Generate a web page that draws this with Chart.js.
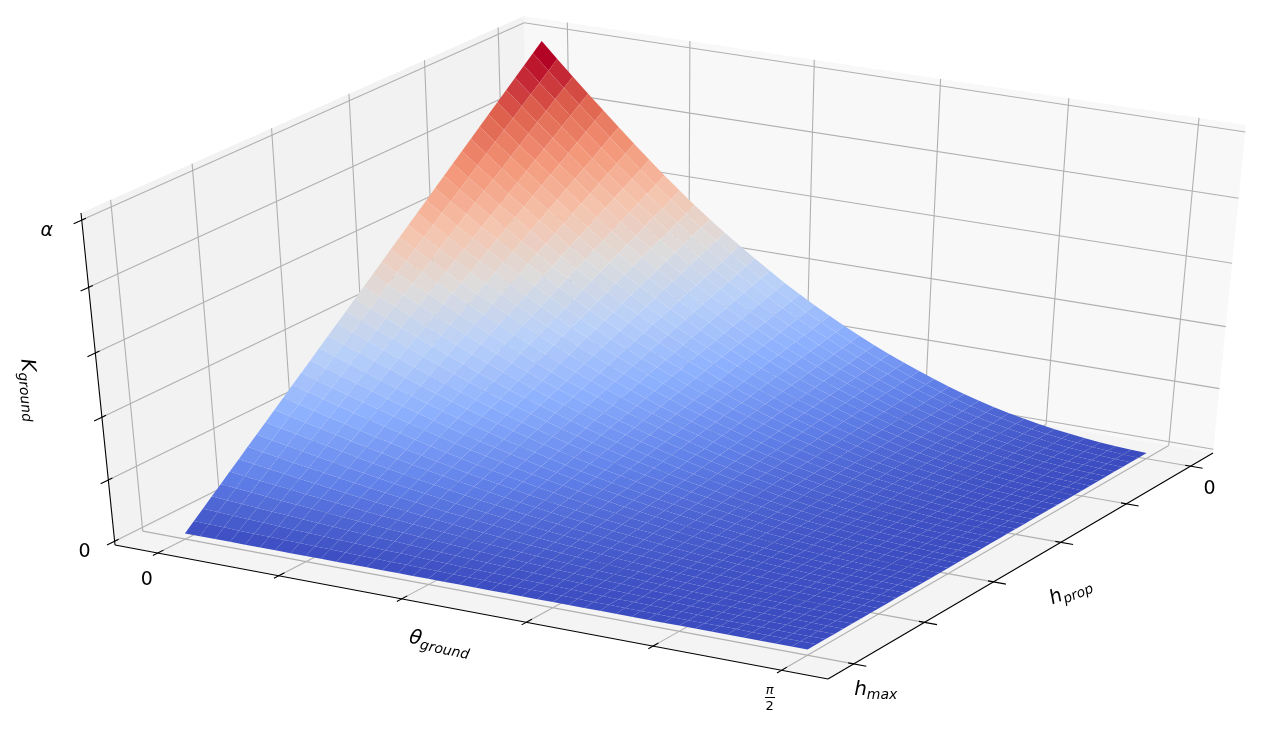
<!DOCTYPE html>
<html>
<head>
<meta charset="utf-8">
<title>K ground surface</title>
<script src="https://cdn.jsdelivr.net/npm/chart.js@4"></script>
<style>
  html, body { margin: 0; padding: 0; background: #fff; }
  canvas { display: block; }
</style>
</head>
<body>
<canvas id="surfaceChart" width="1267" height="731"></canvas>
<script>
// DATA (theta in degrees, h in percent of h_max, K in thousandths of alpha)
const thetaValues = [0, 2.25, 4.5, 6.75, 9, 11.25, 13.5, 15.75, 18, 20.25, 22.5, 24.75, 27, 29.25, 31.5, 33.75, 36, 38.25, 40.5, 42.75, 45, 47.25, 49.5, 51.75, 54, 56.25, 58.5, 60.75, 63, 65.25, 67.5, 69.75, 72, 74.25, 76.5, 78.75, 81, 83.25, 85.5, 87.75, 90];
const hValues = [0, 2.5, 5, 7.5, 10, 12.5, 15, 17.5, 20, 22.5, 25, 27.5, 30, 32.5, 35, 37.5, 40, 42.5, 45, 47.5, 50, 52.5, 55, 57.5, 60, 62.5, 65, 67.5, 70, 72.5, 75, 77.5, 80, 82.5, 85, 87.5, 90, 92.5, 95, 97.5, 100];
const kGrid = [
  [1000,952,905,859,814,769,725,682,640,600,561,524,488,454,421,389,358,329,301,275,250,226,203,182,162,143,125,108,92,78,65,54,44,35,27,20,14,9,5,2,0],
  [975,928,882,838,794,750,707,665,624,585,547,511,476,443,410,379,349,321,293,268,244,220,198,177,158,139,122,105,90,76,63,53,43,34,26,20,14,9,5,2,0],
  [950,904,860,816,773,731,689,648,608,570,533,498,464,431,400,370,340,313,286,261,238,215,193,173,154,136,119,103,87,74,62,51,42,33,26,19,13,9,5,2,0],
  [925,881,837,795,753,711,671,631,592,555,519,485,451,420,389,360,331,304,278,254,231,209,188,168,150,132,116,100,85,72,60,50,41,32,25,19,13,8,5,2,0],
  [900,857,815,773,733,692,653,614,576,540,505,472,439,409,379,350,322,296,271,248,225,203,183,164,146,129,113,97,83,70,59,49,40,32,24,18,13,8,5,2,0],
  [875,833,792,752,712,673,634,597,560,525,491,459,427,397,368,340,313,288,263,241,219,198,178,159,142,125,109,95,81,68,57,47,39,31,24,18,12,8,4,2,0],
  [850,809,769,730,692,654,616,580,544,510,477,445,415,386,358,331,304,280,256,234,213,192,173,155,138,122,106,92,78,66,55,46,37,30,23,17,12,8,4,2,0],
  [825,785,747,709,672,634,598,563,528,495,463,432,403,375,347,321,295,271,248,227,206,186,167,150,134,118,103,89,76,64,54,45,36,29,22,17,12,7,4,2,0],
  [800,762,724,687,651,615,580,546,512,480,449,419,390,363,337,311,286,263,241,220,200,181,162,146,130,114,100,86,74,62,52,43,35,28,22,16,11,7,4,2,0],
  [775,738,701,666,631,596,562,529,496,465,435,406,378,352,326,301,277,255,233,213,194,175,157,141,126,111,97,84,71,60,50,42,34,27,21,16,11,7,4,2,0],
  [750,714,679,644,611,577,544,512,480,450,421,393,366,341,316,292,269,247,226,206,188,170,152,137,122,107,94,81,69,59,49,41,33,26,20,15,11,7,4,2,0],
  [725,690,656,623,590,558,526,494,464,435,407,380,354,329,305,282,260,239,218,199,181,164,147,132,117,104,91,78,67,57,47,39,32,25,20,15,10,7,4,1,0],
  [700,666,634,601,570,538,508,477,448,420,393,367,342,318,295,272,251,230,211,193,175,158,142,127,113,100,88,76,64,55,46,38,31,25,19,14,10,6,4,1,0],
  [675,643,611,580,549,519,489,460,432,405,379,354,329,306,284,263,242,222,203,186,169,153,137,123,109,97,84,73,62,53,44,36,30,24,18,14,9,6,3,1,0],
  [650,619,588,558,529,500,471,443,416,390,365,341,317,295,274,253,233,214,196,179,163,147,132,118,105,93,81,70,60,51,42,35,29,23,18,13,9,6,3,1,0],
  [625,595,566,537,509,481,453,426,400,375,351,328,305,284,263,243,224,206,188,172,156,141,127,114,101,89,78,68,58,49,41,34,28,22,17,13,9,6,3,1,0],
  [600,571,543,515,488,461,435,409,384,360,337,314,293,272,253,233,215,197,181,165,150,136,122,109,97,86,75,65,55,47,39,32,26,21,16,12,8,5,3,1,0],
  [575,547,520,494,468,442,417,392,368,345,323,301,281,261,242,224,206,189,173,158,144,130,117,105,93,82,72,62,53,45,37,31,25,20,16,12,8,5,3,1,0],
  [550,524,498,472,448,423,399,375,352,330,309,288,268,250,232,214,197,181,166,151,138,124,112,100,89,79,69,59,51,43,36,30,24,19,15,11,8,5,3,1,0],
  [525,500,475,451,427,404,381,358,336,315,295,275,256,238,221,204,188,173,158,144,131,119,107,96,85,75,66,57,48,41,34,28,23,18,14,11,7,5,3,1,0],
  [500,476,453,430,407,385,363,341,320,300,281,262,244,227,211,195,179,165,151,138,125,113,102,91,81,72,63,54,46,39,33,27,22,18,14,10,7,5,3,1,0],
  [475,452,430,408,387,365,344,324,304,285,266,249,232,216,200,185,170,156,143,131,119,107,96,86,77,68,59,51,44,37,31,26,21,17,13,10,7,4,2,1,0],
  [450,428,407,387,366,346,326,307,288,270,252,236,220,204,189,175,161,148,135,124,113,102,91,82,73,64,56,49,41,35,29,24,20,16,12,9,6,4,2,1,0],
  [425,405,385,365,346,327,308,290,272,255,238,223,207,193,179,165,152,140,128,117,106,96,86,77,69,61,53,46,39,33,28,23,19,15,11,9,6,4,2,1,0],
  [400,381,362,344,326,308,290,273,256,240,224,210,195,182,168,156,143,132,120,110,100,90,81,73,65,57,50,43,37,31,26,22,18,14,11,8,6,4,2,1,0],
  [375,357,339,322,305,288,272,256,240,225,210,197,183,170,158,146,134,123,113,103,94,85,76,68,61,54,47,41,35,29,24,20,17,13,10,8,5,3,2,1,0],
  [350,333,317,301,285,269,254,239,224,210,196,183,171,159,147,136,125,115,105,96,88,79,71,64,57,50,44,38,32,27,23,19,15,12,9,7,5,3,2,1,0],
  [325,309,294,279,265,250,236,222,208,195,182,170,159,148,137,126,116,107,98,89,81,73,66,59,53,46,41,35,30,25,21,18,14,11,9,7,5,3,2,1,0],
  [300,286,272,258,244,231,218,205,192,180,168,157,146,136,126,117,107,99,90,83,75,68,61,55,49,43,38,32,28,23,20,16,13,11,8,6,4,3,2,1,0],
  [275,262,249,236,224,211,199,188,176,165,154,144,134,125,116,107,98,90,83,76,69,62,56,50,45,39,34,30,25,21,18,15,12,10,7,6,4,2,1,1,0],
  [250,238,226,215,204,192,181,171,160,150,140,131,122,114,105,97,90,82,75,69,63,57,51,46,41,36,31,27,23,20,16,14,11,9,7,5,4,2,1,1,0],
  [225,214,204,193,183,173,163,153,144,135,126,118,110,102,95,88,81,74,68,62,56,51,46,41,36,32,28,24,21,18,15,12,10,8,6,5,3,2,1,0,0],
  [200,190,181,172,163,154,145,136,128,120,112,105,98,91,84,78,72,66,60,55,50,45,41,36,32,29,25,22,18,16,13,11,9,7,5,4,3,2,1,0,0],
  [175,167,158,150,142,135,127,119,112,105,98,92,85,79,74,68,63,58,53,48,44,40,36,32,28,25,22,19,16,14,11,9,8,6,5,4,2,2,1,0,0],
  [150,143,136,129,122,115,109,102,96,90,84,79,73,68,63,58,54,49,45,41,38,34,30,27,24,21,19,16,14,12,10,8,7,5,4,3,2,1,1,0,0],
  [125,119,113,107,102,96,91,85,80,75,70,66,61,57,53,49,45,41,38,34,31,28,25,23,20,18,16,14,12,10,8,7,6,4,3,3,2,1,1,0,0],
  [100,95,91,86,81,77,73,68,64,60,56,52,49,45,42,39,36,33,30,28,25,23,20,18,16,14,13,11,9,8,7,5,4,4,3,2,1,1,1,0,0],
  [75,71,68,64,61,58,54,51,48,45,42,39,37,34,32,29,27,25,23,21,19,17,15,14,12,11,9,8,7,6,5,4,3,3,2,2,1,1,0,0,0],
  [50,48,45,43,41,38,36,34,32,30,28,26,24,23,21,19,18,16,15,14,13,11,10,9,8,7,6,5,5,4,3,3,2,2,1,1,1,0,0,0,0],
  [25,24,23,21,20,19,18,17,16,15,14,13,12,11,11,10,9,8,8,7,6,6,5,5,4,4,3,3,2,2,2,1,1,1,1,1,0,0,0,0,0],
  [0,0,0,0,0,0,0,0,0,0,0,0,0,0,0,0,0,0,0,0,0,0,0,0,0,0,0,0,0,0,0,0,0,0,0,0,0,0,0,0,0]
];
const thetaTicks = [0, 18, 36, 54, 72, 90];
const hTicks = [0, 20, 40, 60, 80, 100];
const kTicks = [0, 200, 400, 600, 800, 1000];

// coolwarm colour stops
const coolwarm = [
  [59, 76, 192], [98, 130, 234], [141, 176, 254], [184, 208, 249], [221, 220, 220],
  [245, 196, 173], [244, 152, 122], [222, 96, 77], [180, 4, 38]
];

function coolwarmColor(v) {
  const p = Math.min(Math.max(v, 0), 1) * (coolwarm.length - 1);
  const i = Math.min(Math.floor(p), coolwarm.length - 2);
  const f = p - i;
  const c = [0, 1, 2].map(k => Math.round(coolwarm[i][k] + (coolwarm[i + 1][k] - coolwarm[i][k]) * f));
  return 'rgb(' + c.join(',') + ')';
}

// PROJECTION: box coordinates u, s, w (all 0 to 1) to page pixels
function project(u, s, w) {
  const d = 1 - 0.04273 * u + 0.07057 * s - 0.0583 * w;
  return {
    x: (115 + 677.62 * u + 454.15 * s - 38.72 * w) / d,
    y: (545 + 104.99 * u - 184.38 * s - 344.42 * w) / d
  };
}
const toU = theta => 0.0625 + 0.875 * theta / 90;
const toS = h => 0.9375 - 0.875 * h / 100;
const toW = k => 0.012 + 0.968 * k / 1000;
// the sheet sits a touch above the 0 tick in the reference
const sheetW = k => 0.018 + 0.962 * k / 1000;

// DATASETS, listed bottom layer first
const layers = [];

function addShape(corners, color) {
  layers.push({
    data: corners.map(c => project(c[0], c[1], c[2])),
    showLine: true, fill: 'shape', backgroundColor: color, borderWidth: 0, pointRadius: 0, clip: false
  });
}

function addLine(from, to, color, width) {
  layers.push({
    data: [project(from[0], from[1], from[2]), project(to[0], to[1], to[2])],
    showLine: true, fill: false, borderColor: color, borderWidth: width, pointRadius: 0, clip: false
  });
}

// panes
addShape([[0, 0, 0], [1, 0, 0], [1, 1, 0], [0, 1, 0]], '#f4f4f4');
addShape([[0, 0, 0], [0, 1, 0], [0, 1, 1], [0, 0, 1]], '#f2f2f2');
addShape([[0, 1, 0], [1, 1, 0], [1, 1, 1], [0, 1, 1]], '#f8f8f8');

// grid lines
const gridColor = '#b0b0b0';
thetaTicks.forEach(t => {
  addLine([toU(t), 0, 0], [toU(t), 1, 0], gridColor, 1.1);
  addLine([toU(t), 1, 0], [toU(t), 1, 1], gridColor, 1.1);
});
hTicks.forEach(h => {
  addLine([0, toS(h), 0], [1, toS(h), 0], gridColor, 1.1);
  addLine([0, toS(h), 0], [0, toS(h), 1], gridColor, 1.1);
});
kTicks.forEach(k => {
  addLine([0, 0, toW(k)], [0, 1, toW(k)], gridColor, 1.1);
  addLine([0, 1, toW(k)], [1, 1, toW(k)], gridColor, 1.1);
});

// surface cells, far row first
const cellMeans = [];
for (let r = 0; r < hValues.length - 1; r++) {
  for (let c = 0; c < thetaValues.length - 1; c++) {
    cellMeans.push((kGrid[r][c] + kGrid[r][c + 1] + kGrid[r + 1][c] + kGrid[r + 1][c + 1]) / 4);
  }
}
const meanMax = Math.max(...cellMeans);
for (let r = 0; r < hValues.length - 1; r++) {
  for (let c = 0; c < thetaValues.length - 1; c++) {
    const mean = cellMeans[r * (thetaValues.length - 1) + c];
    addShape([
      [toU(thetaValues[c]), toS(hValues[r]), sheetW(kGrid[r][c])],
      [toU(thetaValues[c + 1]), toS(hValues[r]), sheetW(kGrid[r][c + 1])],
      [toU(thetaValues[c + 1]), toS(hValues[r + 1]), sheetW(kGrid[r + 1][c + 1])],
      [toU(thetaValues[c]), toS(hValues[r + 1]), sheetW(kGrid[r + 1][c])]
    ], coolwarmColor(mean / meanMax));
  }
}

// axes and ticks
addLine([0, 0, 0], [1, 0, 0], '#000', 1.1);
addLine([1, 0, 0], [1, 1, 0], '#000', 1.1);
addLine([0, 0, 0], [0, 0, 1], '#000', 1.1);
thetaTicks.forEach(t => addLine([toU(t), -0.011, 0], [toU(t), 0.013, 0], '#000', 1.1));
hTicks.forEach(h => addLine([0.9925, toS(h), 0], [1.017, toS(h), 0], '#000', 1.1));
kTicks.forEach(k => addLine([0, -0.017, toW(k)], [0, 0.009, toW(k)], '#000', 1.1));

// TEXT
function mathLabel(ctx, x, y, angle, main, sub, size) {
  ctx.save();
  ctx.translate(x, y);
  ctx.rotate(angle * Math.PI / 180);
  ctx.fillStyle = '#000';
  ctx.textBaseline = 'alphabetic';
  ctx.textAlign = 'left';
  const mainFont = 'italic ' + size + 'px "DejaVu Sans"';
  const subFont = 'italic ' + (size * 0.7) + 'px "DejaVu Sans"';
  ctx.font = mainFont;
  const w1 = ctx.measureText(main).width;
  ctx.font = subFont;
  const w2 = ctx.measureText(sub).width;
  const left = -(w1 + w2) / 2;
  ctx.font = mainFont;
  ctx.fillText(main, left, size * 0.35);
  ctx.font = subFont;
  ctx.fillText(sub, left + w1, size * 0.35 + size * 0.2);
  ctx.restore();
}

function plainLabel(ctx, x, y, text, font) {
  ctx.fillStyle = '#000';
  ctx.textAlign = 'center';
  ctx.textBaseline = 'middle';
  ctx.font = font;
  ctx.fillText(text, x, y);
}

const labelPlugin = {
  id: 'labelPlugin',
  afterDraw(chart) {
    const ctx = chart.ctx;
    const tickFont = '19px "DejaVu Sans"';
    let p = project(toU(thetaTicks[0]), 0, 0);
    plainLabel(ctx, p.x - 11, p.y + 27, '0', tickFont);
    p = project(0, 0, toW(kTicks[0]));
    plainLabel(ctx, p.x - 30, p.y + 11, '0', tickFont);
    p = project(1, toS(hTicks[0]), 0);
    plainLabel(ctx, p.x + 19, p.y + 23, '0', tickFont);
    p = project(0, 0, toW(kTicks[5]));
    plainLabel(ctx, p.x - 35, p.y + 11, 'α', 'italic 19px "DejaVu Sans"');

    // pi over 2
    p = project(toU(thetaTicks[5]), 0, 0);
    plainLabel(ctx, p.x - 12, p.y + 20, 'π', 'italic 13px "DejaVu Sans"');
    plainLabel(ctx, p.x - 12, p.y + 36, '2', '13px "DejaVu Sans"');
    ctx.fillStyle = '#000';
    ctx.fillRect(Math.round(p.x - 17), Math.round(p.y + 27), 10, 1);

    p = project(1, toS(hTicks[5]), 0);
    mathLabel(ctx, p.x + 22, p.y + 24, 0, 'h', 'max', 20);
    mathLabel(ctx, 440, 642, 12, 'θ', 'ground', 20);
    mathLabel(ctx, 1070, 590, -22, 'h', 'prop', 19.5);
    mathLabel(ctx, 31, 390, 85, 'K', 'ground', 20);
  }
};

const surfaceChart = new Chart(document.getElementById('surfaceChart'), {
  type: 'scatter',
  data: { datasets: layers.reverse() },
  options: {
    responsive: false,
    animation: false,
    events: [],
    layout: { padding: 0 },
    plugins: { legend: { display: false }, tooltip: { enabled: false } },
    scales: {
      x: { type: 'linear', display: false, min: 0, max: 1267 },
      y: { type: 'linear', display: false, min: 0, max: 731, reverse: true }
    }
  },
  plugins: [labelPlugin]
});
</script>
</body>
</html>
